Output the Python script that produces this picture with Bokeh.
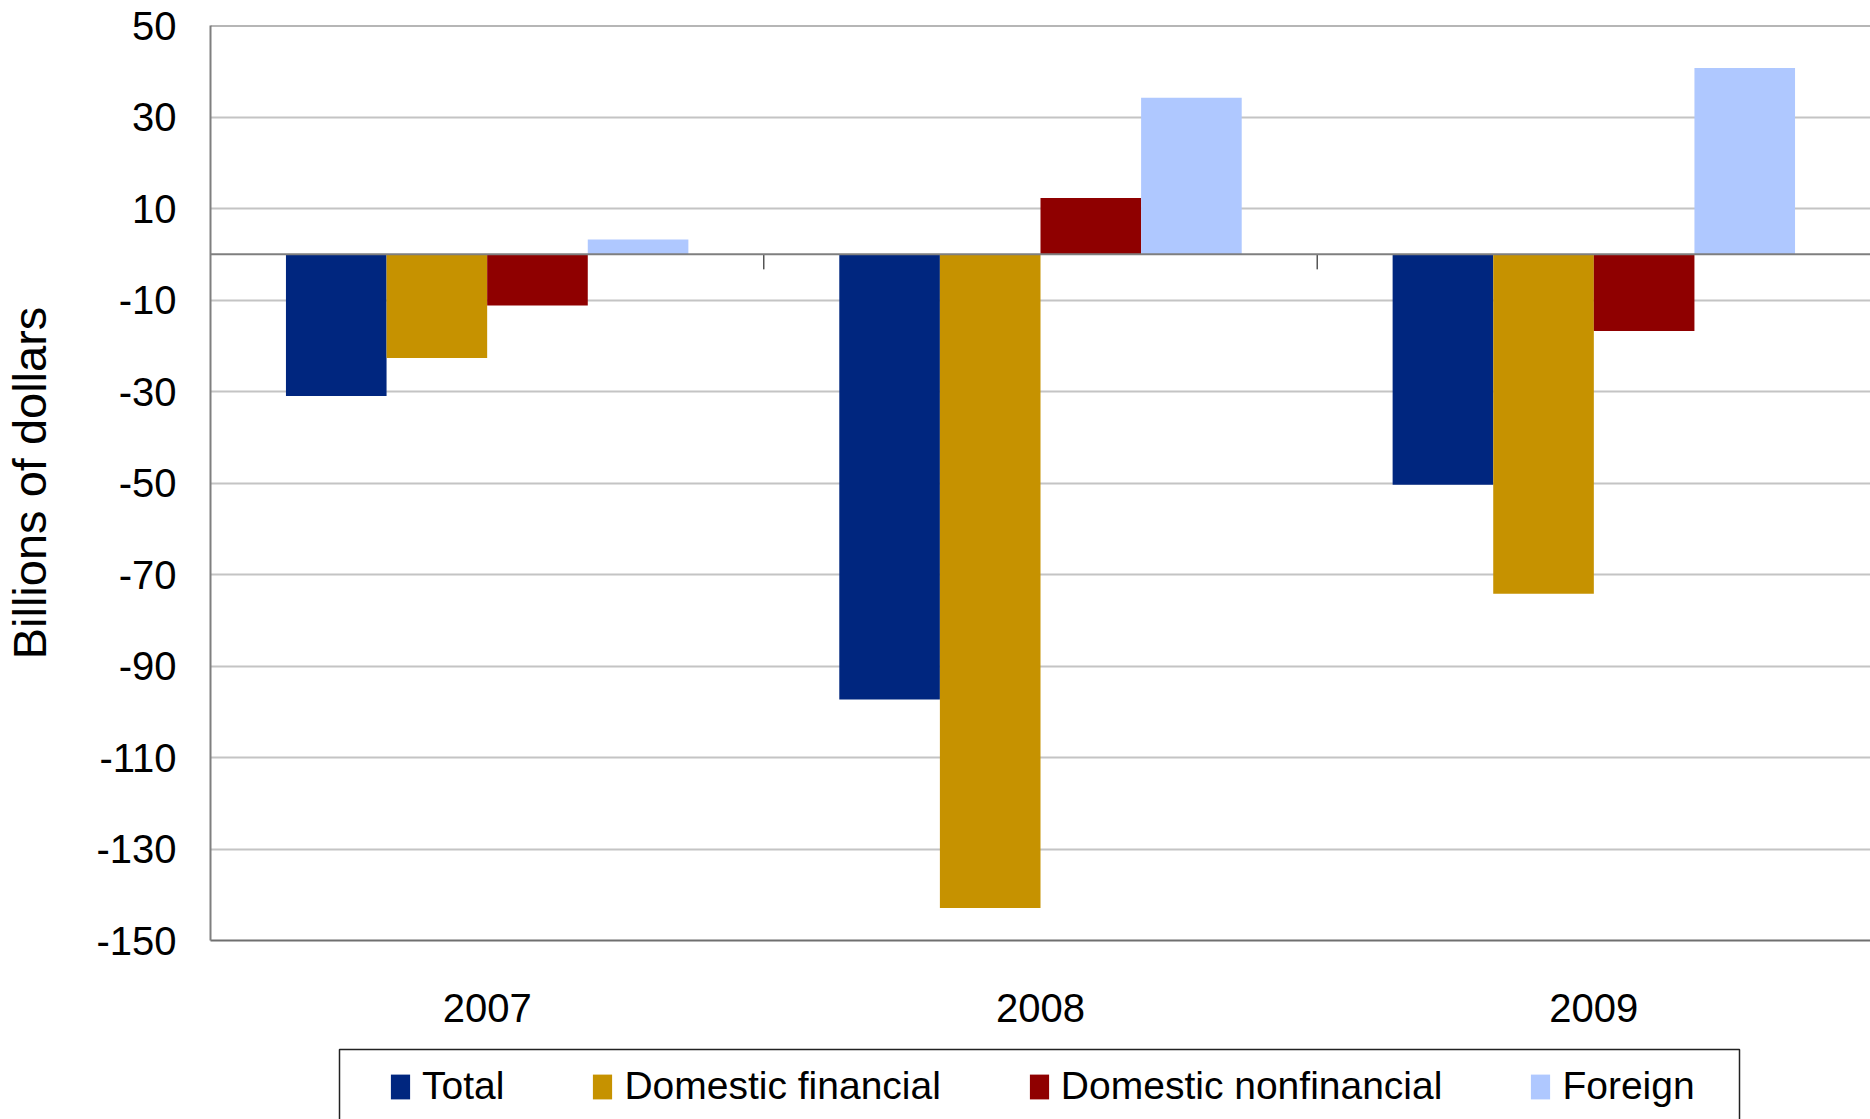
from bokeh.plotting import figure
from bokeh.layouts import column
from bokeh.models import (FactorRange, Range1d, FixedTicker, Legend, LegendItem,
                          Span, ColumnDataSource, BoxAnnotation)
from bokeh.transform import dodge
from bokeh.embed import file_html
from bokeh.resources import INLINE

# ---------------- data ----------------
years = ["2007", "2008", "2009"]
series_names = ["Total", "Domestic financial", "Domestic nonfinancial", "Foreign"]
total = [-31.0, -97.3, -50.4]
domestic_financial = [-22.7, -142.9, -74.2]
domestic_nonfinancial = [-11.2, 12.3, -16.8]
foreign = [3.2, 34.2, 40.7]
y_ticks = [-150, -130, -110, -90, -70, -50, -30, -10, 10, 30, 50]
y_tick_labels = [str(t) for t in y_ticks]
y_label = "Billions of dollars"

# ---------------- style ----------------
colors = ["#00267F", "#C69200", "#8F0000", "#AFC8FF"]
FONT = "Liberation Sans"
BAR_W = 1.0 / 5.5
offsets = [-1.5 * BAR_W, -0.5 * BAR_W, 0.5 * BAR_W, 1.5 * BAR_W]
keys = ["s0", "s1", "s2", "s3"]

source = ColumnDataSource(dict(
    year=years, s0=total, s1=domestic_financial, s2=domestic_nonfinancial, s3=foreign))

p = figure(width=1870, height=1039,
           x_range=FactorRange(*years), y_range=Range1d(-150, 50),
           output_backend="svg", toolbar_location=None,
           min_border_left=207, min_border_right=0,
           min_border_top=25, min_border_bottom=99)
p.outline_line_color = None
p.background_fill_color = "white"
p.border_fill_color = "white"

for i, key in enumerate(keys):
    p.vbar(x=dodge("year", offsets[i], range=p.x_range), top=key, bottom=0,
           width=BAR_W, source=source, fill_color=colors[i], line_color=None)

# category boundary tick marks on the zero line
bsrc = ColumnDataSource(dict(year=years[:-1]))
p.segment(x0=dodge("year", 0.5, range=p.x_range), y0=0,
          x1=dodge("year", 0.5, range=p.x_range), y1=-3.3,
          source=bsrc, line_color="#000000", line_width=1)

# grid
p.xgrid.visible = False
p.ygrid.ticker = FixedTicker(ticks=y_ticks)
p.ygrid.grid_line_color = "#C4C4C4"
p.ygrid.grid_line_width = 2

# zero line + top border
p.add_layout(Span(location=0, dimension="width", line_color="#7F7F7F", line_width=2))
p.add_layout(Span(location=50, dimension="width", line_color="#6F6F6F", line_width=2))

# y axis
ya = p.yaxis[0]
ya.ticker = FixedTicker(ticks=y_ticks)
ya.major_label_overrides = dict(zip(y_ticks, y_tick_labels))
ya.axis_line_color = "#7F7F7F"
ya.axis_line_width = 2
ya.major_tick_out = 0
ya.major_tick_in = 0
ya.minor_tick_out = 0
ya.minor_tick_in = 0
ya.major_label_standoff = 34
ya.major_label_text_font = FONT
ya.major_label_text_font_size = "40px"
ya.major_label_text_color = "black"
ya.axis_label = y_label
ya.axis_label_text_font = FONT
ya.axis_label_text_font_size = "47px"
ya.axis_label_text_font_style = "normal"
ya.axis_label_text_color = "black"
ya.axis_label_standoff = 37

# x axis
xa = p.xaxis[0]
xa.axis_line_color = "#6F6F6F"
xa.axis_line_width = 2
xa.major_tick_out = 0
xa.major_tick_in = 0
xa.minor_tick_out = 0
xa.minor_tick_in = 0
xa.major_label_standoff = 53
xa.major_label_text_font = FONT
xa.major_label_text_font_size = "40px"
xa.major_label_text_color = "black"

# ---------------- legend strip ----------------
lg = figure(width=1870, height=80, x_range=FactorRange(*years),
            y_range=Range1d(1000, 1001),
            output_backend="svg", toolbar_location=None,
            min_border_left=207, min_border_right=0,
            min_border_top=0, min_border_bottom=0)
lg.axis.visible = False
lg.grid.visible = False
lg.outline_line_color = None
lg.background_fill_color = "white"
lg.border_fill_color = "white"

# legend swatch renderers (same data, outside this strip's visible range)
swatches = [lg.vbar(x=dodge("year", offsets[i], range=lg.x_range), top=key, bottom=0,
                    width=BAR_W, source=source, fill_color=colors[i], line_color=None)
            for i, key in enumerate(keys)]
items = [LegendItem(label=n, renderers=[r]) for n, r in zip(series_names, swatches)]
legend = Legend(items=items, orientation="horizontal", location=(178, 11),
                padding=0, margin=0, spacing=86, label_standoff=10,
                glyph_width=24, glyph_height=31,
                label_text_font=FONT, label_text_font_size="39px",
                label_text_color="black", label_text_baseline="middle",
                border_line_alpha=0, background_fill_alpha=0)
lg.add_layout(legend, "center")

# legend frame
lg.add_layout(BoxAnnotation(left=339, right=1739, top=10, bottom=110,
                            left_units="canvas", right_units="canvas",
                            top_units="canvas", bottom_units="canvas",
                            fill_alpha=0, line_color="#222222", line_alpha=1,
                            line_width=1.5))

layout = column(p, lg, spacing=0)
open("out.html", "w").write(file_html(layout, INLINE))
